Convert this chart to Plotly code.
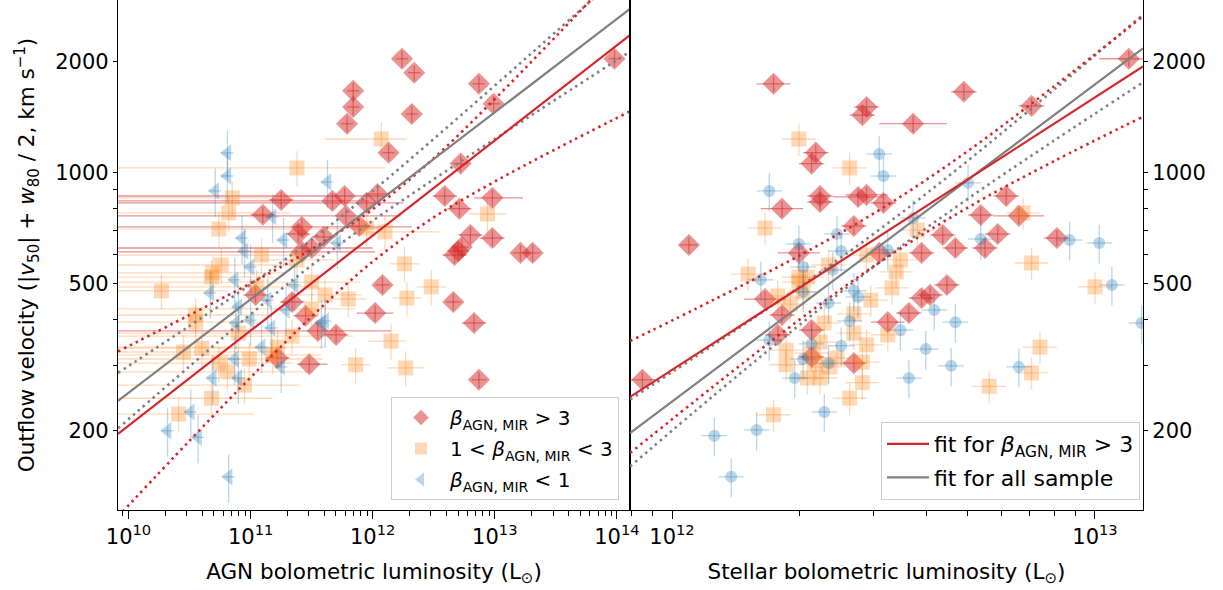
import numpy as np
import plotly.graph_objects as go

# ---------------- data (log10 luminosity in L_sun, velocity in km/s) ----------------
# Left panel: AGN bolometric luminosity
agn_red_logL = [12.24, 12.34, 11.84, 11.84, 12.32, 11.79, 12.87, 12.99, 13.98, 12.13, 12.72, 11.25,
                11.67, 11.77, 12.04, 11.95, 12.59, 12.98, 12.71, 11.10, 11.78, 11.42, 11.39, 11.89,
                12.80, 12.98, 11.60, 11.50, 11.42, 12.73, 12.70, 12.67, 13.21, 13.31, 12.08, 11.04,
                12.66, 11.34, 12.02, 12.83, 11.45, 11.55, 11.70, 11.22, 11.48, 12.87]
agn_red_v = [2040, 1870, 1670, 1510, 1445, 1360, 1745, 1540, 2040, 1135, 1060, 845,
             840, 866, 877, 830, 866, 856, 800, 770, 765, 714, 683, 718,
             679, 666, 671, 626, 611, 630, 614, 599, 607, 607, 497, 467,
             447, 447, 417, 392, 410, 373, 364, 315, 303, 275]
agn_red_xlo = [0.05, 0.05, 0.05, 0.05, 0.05, 0.05, 0.05, 0.05, 0.05, 0.05, 0.06, 0.1,
               3, 3, 0.1, 3, 0.1, 0.15, 0.1, 0.1, 3, 3, 0.1, 0.1,
               0.1, 0.1, 0.1, 3, 3, 0.06, 0.06, 0.1, 0.06, 0.06, 0.06, 0.1,
               0.06, 0.1, 0.15, 0.1, 0.1, 3, 0.1, 0.1, 0.1, 0.06]
agn_red_xhi = [0.05, 0.05, 0.05, 0.05, 0.05, 0.05, 0.05, 0.05, 0.05, 0.05, 0.06, 0.1,
               0.3, 0.35, 0.1, 0.3, 0.1, 0.25, 0.1, 0.1, 0.45, 0.9, 0.1, 0.1,
               0.1, 0.1, 0.1, 0.5, 0.6, 0.06, 0.06, 0.1, 0.06, 0.06, 0.06, 0.1,
               0.06, 0.1, 0.15, 0.1, 0.1, 0.6, 0.1, 0.1, 0.15, 0.06]

agn_orange_logL = [12.07, 11.38, 10.85, 10.82, 10.74, 12.94, 12.10, 11.95, 11.09, 11.38, 12.26, 10.69,
                   10.76, 10.68, 12.48, 10.27, 11.50, 11.61, 11.80, 12.28, 11.50, 10.55, 10.55, 11.05,
                   12.15, 11.86, 12.27, 11.34, 10.45, 10.60, 10.90, 10.99, 10.81, 10.74, 11.22, 10.95,
                   10.68, 10.41, 11.18]
agn_orange_v = [1236, 1032, 856, 779, 705, 774, 692, 709, 599, 581, 567, 536,
                563, 522, 491, 479, 506, 467, 455, 458, 428, 412, 394, 491,
                350, 302, 296, 361, 327, 335, 368, 313, 289, 305, 337, 266,
                245, 222, 321]
agn_orange_xlo = [0.46, 3, 3, 3, 3, 0.15, 0.15, 0.1, 3, 0.3, 0.12, 3,
                  3, 3, 0.12, 3, 3, 0.3, 0.15, 0.12, 3, 3, 3, 3,
                  0.19, 0.12, 0.15, 3, 3, 3, 3, 3, 3, 3, 3, 3,
                  3, 3, 3]
agn_orange_xhi = [0.21, 0.72, 0.5, 0.5, 1.3, 0.15, 0.45, 0.1, 0.5, 0.3, 0.12, 0.6,
                  0.6, 0.5, 0.12, 0.55, 0.4, 0.3, 0.15, 0.12, 0.35, 0.6, 0.5, 0.5,
                  0.13, 0.12, 0.15, 0.5, 0.8, 0.7, 0.5, 0.6, 0.7, 0.6, 0.4, 0.45,
                  0.5, 0.62, 0.4]

agn_blue_logL = [10.81, 10.81, 10.71, 11.63, 11.18, 11.27, 10.93, 10.95, 11.71, 11.00, 10.87, 10.67,
                 11.36, 11.14, 10.90, 11.00, 10.88, 11.29, 11.61, 11.17, 11.09, 10.87, 10.69, 11.25,
                 10.51, 10.32, 10.57, 10.82, 10.90, 11.58]
agn_blue_v = [1133, 981, 894, 945, 760, 658, 666, 614, 646, 556, 513, 473,
              497, 452, 433, 399, 392, 425, 397, 380, 337, 313, 278, 298,
              225, 200, 192, 150, 278, 392]

# Right panel: stellar bolometric luminosity
stel_red_logL = [12.24, 12.69, 12.46, 12.45, 12.57, 12.85, 13.08, 12.34, 12.33, 12.35, 12.35, 12.44,
                 12.46, 12.50, 12.26, 12.43, 12.79, 12.73, 12.82, 12.77, 12.64, 12.67, 12.74, 12.91,
                 12.59, 12.04, 12.30, 12.49, 12.65, 12.61, 12.59, 12.56, 12.51, 12.22, 12.26, 12.25,
                 12.33, 12.33, 12.43, 11.93]
stel_red_v = [1745, 1660, 1510, 1435, 1360, 1520, 2040, 1135, 1060, 866, 834, 861,
              872, 829, 800, 718, 866, 769, 765, 683, 679, 626, 626, 666,
              607, 638, 607, 607, 497, 467, 458, 417, 394, 455, 412, 364,
              375, 317, 305, 275]
stel_red_xerr = [0.04, 0.03, 0.03, 0.03, 0.08, 0.03, 0.07, 0.03, 0.03, 0.03, 0.03, 0.06,
                 0.05, 0.03, 0.05, 0.03, 0.03, 0.03, 0.06, 0.03, 0.03, 0.03, 0.03, 0.03,
                 0.03, 0.02, 0.05, 0.03, 0.03, 0.03, 0.03, 0.03, 0.04, 0.05, 0.03, 0.03,
                 0.03, 0.03, 0.03, 0.03]

stel_orange_logL = [12.30, 12.42, 12.22, 12.83, 12.58, 12.54, 12.53, 12.85, 12.18, 12.37, 12.46, 12.52,
                    12.47, 12.30, 12.32, 12.30, 12.25, 12.28, 12.31, 12.43, 12.36, 12.43, 12.35, 12.46,
                    12.51, 12.27, 12.39, 12.37, 12.34, 12.45, 12.45, 12.42, 12.24, 12.75, 12.87, 12.85,
                    13.00, 12.32, 12.35, 12.33, 12.27]
stel_orange_v = [1236, 1032, 709, 779, 700, 581, 539, 570, 532, 563, 599, 488,
                 452, 522, 522, 506, 464, 441, 476, 415, 392, 368, 348, 342,
                 364, 331, 315, 298, 303, 307, 270, 245, 221, 264, 337, 287,
                 491, 278, 278, 325, 302]

stel_blue_logL = [12.23, 12.49, 12.50, 12.70, 12.57, 12.73, 12.94, 13.01, 13.04, 12.39, 12.30, 12.40,
                  12.51, 12.31, 12.38, 12.21, 12.43, 12.44, 12.37, 12.31, 12.62, 12.67, 12.54, 12.60,
                  12.40, 12.33, 12.42, 12.23, 12.66, 12.56, 12.31, 12.37, 12.29, 12.36, 12.20, 12.10,
                  12.14, 12.82, 13.11]
stel_blue_v = [894, 1126, 981, 940, 755, 662, 658, 646, 497, 683, 642, 614,
               618, 556, 546, 513, 479, 461, 444, 476, 425, 394, 375, 333,
               340, 344, 397, 352, 300, 278, 313, 305, 278, 225, 201, 194,
               150, 298, 392]

# Fits (solid) and their confidence bands (dotted)
left_fit_logL = [9.914, 14.107]
left_red_fit_v = [196, 2365]
left_all_fit_v = [241, 2786]
left_band_logL = [9.914, 10.5, 11.0, 11.5, 12.0, 12.5, 13.0, 13.5, 14.107]
left_red_band_hi = [328, 412, 502, 621, 797, 1096, 1587, 2345, 3808]
left_red_band_lo = [117, 188, 279, 408, 575, 758, 948, 1161, 1469]
left_all_band_hi = [287, 385, 499, 659, 894, 1237, 1726, 2415, 3637]
left_all_band_lo = [203, 299, 414, 562, 742, 961, 1236, 1583, 2133]

right_fit_logL = [11.9007, 13.1135]
right_red_fit_v = [247, 1945]
right_all_fit_v = [197, 2175]
right_band_logL = [11.9007, 12.1, 12.3, 12.5, 12.7, 12.9, 13.1135]
right_red_band_hi = [350, 454, 596, 806, 1148, 1706, 2662]
right_red_band_lo = [174, 265, 399, 582, 807, 1072, 1421]
right_all_band_hi = [243, 343, 490, 716, 1081, 1670, 2686]
right_all_band_lo = [160, 250, 386, 583, 852, 1217, 1761]

# ticks
y_label_ticks = [200, 500, 1000, 2000]
y_minor_ticks = [300, 400, 600, 700, 800, 900]
y_long_ticks = [1000]
y_inner_ticks = [200, 300, 400, 500, 600, 700, 800, 900, 2000]
left_x_ticks = [1e10, 1e11, 1e12, 1e13, 1e14]
left_x_ticktext = ['10<sup>10</sup>', '10<sup>11</sup>', '10<sup>12</sup>', '10<sup>13</sup>', '10<sup>14</sup>']
right_x_ticks = [1e12, 1e13]
right_x_ticktext = ['10<sup>12</sup>', '10<sup>13</sup>']

# ---------------- styling ----------------
RED = 'rgba(214,39,40,0.5)'
ORANGE = 'rgba(255,127,14,0.3)'
BLUE = 'rgba(31,119,180,0.3)'
RED_LINE = '#d62728'
GRAY_LINE = '#808080'
FONT = 'DejaVu Sans'
TICK_SIZE = 21
TITLE_SIZE = 21.5
W, H = 1223, 590
XL0, XMID, XR1 = 118, 630, 1143
YBOT = 510

beta = '<i>β</i><sub>AGN, MIR</sub>'
lab_hi = beta + ' > 3'
lab_mid = '1 < ' + beta + ' < 3'
lab_lo = beta + ' < 1'


def asym_x(logL, lo, hi):
    L = 10 ** np.asarray(logL, dtype=float)
    return L, L * (1 - 10 ** (-np.asarray(lo, dtype=float))), L * (10 ** np.asarray(hi, dtype=float) - 1)


def sym_x(logL, err):
    return asym_x(logL, err, err)


fig = go.Figure()


def add_points(x, xm, xp, v, yfrac, color, symbol, size, xa, ya, name=None, group=None):
    v = np.asarray(v, dtype=float)
    fig.add_trace(go.Scatter(
        x=x, y=v, mode='markers', xaxis=xa, yaxis=ya,
        marker=dict(symbol=symbol, size=size, color=color, line=dict(width=0)),
        error_x=dict(type='data', symmetric=False, array=xp, arrayminus=xm,
                     color=color, thickness=1.3, width=0),
        error_y=dict(type='data', array=v * yfrac, color=color, thickness=1.3, width=0),
        name=name, showlegend=name is not None, legend='legend', legendgroup=group,
        hoverinfo='skip'))


# left panel points
x, xm, xp = asym_x(agn_red_logL, agn_red_xlo, agn_red_xhi)
add_points(x, xm, xp, agn_red_v, 0.05, RED, 'diamond', 17, 'x', 'y', lab_hi, 'g1')
x, xm, xp = asym_x(agn_orange_logL, agn_orange_xlo, agn_orange_xhi)
add_points(x, xm, xp, agn_orange_v, 0.11, ORANGE, 'square', 15, 'x', 'y', lab_mid, 'g2')
x, xm, xp = sym_x(agn_blue_logL, [0.05] * len(agn_blue_logL))
add_points(x, xm, xp, agn_blue_v, 0.15, BLUE, 'triangle-left', 15, 'x', 'y', lab_lo, 'g3')

# right panel points
x, xm, xp = sym_x(stel_red_logL, stel_red_xerr)
add_points(x, xm, xp, stel_red_v, 0.05, RED, 'diamond', 17, 'x2', 'y2')
x, xm, xp = sym_x(stel_orange_logL, [0.04] * len(stel_orange_logL))
add_points(x, xm, xp, stel_orange_v, 0.1, ORANGE, 'square', 15, 'x2', 'y2')
x, xm, xp = sym_x(stel_blue_logL, [0.03] * len(stel_blue_logL))
add_points(x, xm, xp, stel_blue_v, 0.12, BLUE, 'circle', 12, 'x2', 'y2')


def add_line(logL, v, color, dotted, xa, ya, name=None, group=None, rank=None):
    fig.add_trace(go.Scatter(
        x=10 ** np.asarray(logL, dtype=float), y=v, mode='lines', xaxis=xa, yaxis=ya,
        line=dict(color=color, width=2.6 if dotted else 2.2,
                  dash='2.5px,4px' if dotted else 'solid',
                  shape='spline' if dotted else 'linear', smoothing=1.0),
        name=name, showlegend=name is not None, legend='legend2', legendgroup=group,
        legendrank=rank if rank is not None else 1000,
        hoverinfo='skip'))


for xa, ya, bx, ahi, alo, fx, afit, rhi, rlo, rfit, legend_on in [
        ('x', 'y', left_band_logL, left_all_band_hi, left_all_band_lo, left_fit_logL, left_all_fit_v,
         left_red_band_hi, left_red_band_lo, left_red_fit_v, False),
        ('x2', 'y2', right_band_logL, right_all_band_hi, right_all_band_lo, right_fit_logL, right_all_fit_v,
         right_red_band_hi, right_red_band_lo, right_red_fit_v, True)]:
    add_line(bx, ahi, GRAY_LINE, True, xa, ya)
    add_line(bx, alo, GRAY_LINE, True, xa, ya)
    add_line(bx, rhi, RED_LINE, True, xa, ya)
    add_line(bx, rlo, RED_LINE, True, xa, ya)
    add_line(fx, afit, GRAY_LINE, False, xa, ya,
             'fit for all sample' if legend_on else None, 'h2', 2)
    add_line(fx, rfit, RED_LINE, False, xa, ya,
             ('fit for ' + lab_hi) if legend_on else None, 'h1', 1)

axis_common = dict(type='log', showline=True, linecolor='black', linewidth=1.2,
                   showgrid=False, zeroline=False, ticks='outside', tickwidth=1.2,
                   tickcolor='black', automargin=False, tickmode='array',
                   tickfont=dict(family=FONT, size=TICK_SIZE, color='black'))
minor_x = dict(ticks='outside', ticklen=4.5, tickwidth=1, tickcolor='black')
minor_y = dict(ticks='outside', ticklen=4, tickwidth=1, tickcolor='black', tickvals=y_minor_ticks)

y_range = [np.log10(121.95), np.log10(2944)]
yd = [(H - YBOT) / H, 1.0]


def tick_only_axis(overlay, anchor, side, vals, length):
    return dict(type='log', overlaying=overlay, anchor=anchor, side=side, range=y_range, domain=yd,
                showline=False, showgrid=False, zeroline=False, automargin=False,
                tickmode='array', tickvals=vals, showticklabels=False,
                ticks='outside', ticklen=length, tickwidth=1.2, tickcolor='black')


fig.update_layout(
    width=W, height=H, margin=dict(l=0, r=0, t=0, b=0, pad=0),
    paper_bgcolor='white', plot_bgcolor='white',
    font=dict(family=FONT, size=TICK_SIZE, color='black'),
    xaxis=dict(**axis_common, mirror=True, domain=[XL0 / W, XMID / W], anchor='y', range=[9.914, 14.107],
               ticklen=8, tickvals=left_x_ticks, ticktext=left_x_ticktext,
               minor=dict(tickvals=[m * 10 ** e for e in range(9, 14) for m in range(2, 10)], **minor_x),
               title=dict(text='AGN bolometric luminosity (L<sub>⊙</sub>)',
                          font=dict(family=FONT, size=TITLE_SIZE), standoff=15)),
    xaxis2=dict(**axis_common, mirror=True, domain=[XMID / W, XR1 / W], anchor='y2', range=[11.9007, 13.1135],
                ticklen=8, tickvals=right_x_ticks, ticktext=right_x_ticktext,
                minor=dict(tickvals=[m * 10 ** e for e in range(11, 13) for m in range(2, 10)], **minor_x),
                title=dict(text='Stellar bolometric luminosity (L<sub>⊙</sub>)',
                           font=dict(family=FONT, size=TITLE_SIZE), standoff=15)),
    yaxis=dict(**axis_common, mirror=True, domain=yd, anchor='x', range=y_range,
               ticklen=4, tickvals=y_label_ticks, ticktext=[str(t) for t in y_label_ticks],
               minor=minor_y,
               title=dict(text='Outflow velocity (|<i>v</i><sub>50</sub>| + <i>w</i><sub>80</sub> / 2, km s<sup>−1</sup>)',
                          font=dict(family=FONT, size=TITLE_SIZE), standoff=14)),
    yaxis2=dict(**axis_common, mirror=True, domain=yd, anchor='x2', range=y_range, side='right',
                ticklen=4, tickvals=y_label_ticks, ticktext=[str(t) for t in y_label_ticks],
                minor=minor_y),
    # short ticks on the inner (left) spine of the right panel
    yaxis3=tick_only_axis('y2', 'x2', 'left', y_inner_ticks, 4.5),
    # longer major tick at 1000 on both outer spines
    yaxis4=tick_only_axis('y', 'x', 'left', y_long_ticks, 7.5),
    yaxis5=tick_only_axis('y2', 'x2', 'right', y_long_ticks, 7.5),
    legend=dict(x=619 / W, y=(H - 500) / H, xanchor='right', yanchor='bottom',
                bgcolor='rgba(255,255,255,0.8)', bordercolor='#cccccc', borderwidth=1,
                font=dict(family=FONT, size=20), itemsizing='constant', tracegroupgap=2,
                itemwidth=48, traceorder='grouped'),
    legend2=dict(x=1140 / W, y=(H - 500) / H, xanchor='right', yanchor='bottom',
                 bgcolor='rgba(255,255,255,0.8)', bordercolor='#cccccc', borderwidth=1,
                 font=dict(family=FONT, size=22), tracegroupgap=2, itemwidth=42,
                 traceorder='grouped'),
)

# remove the page's default body margin so the figure sits at the window origin
fig.write_html('out.html', config={'displayModeBar': False},
               post_script="document.body.style.margin='0';document.body.style.padding='0';")
